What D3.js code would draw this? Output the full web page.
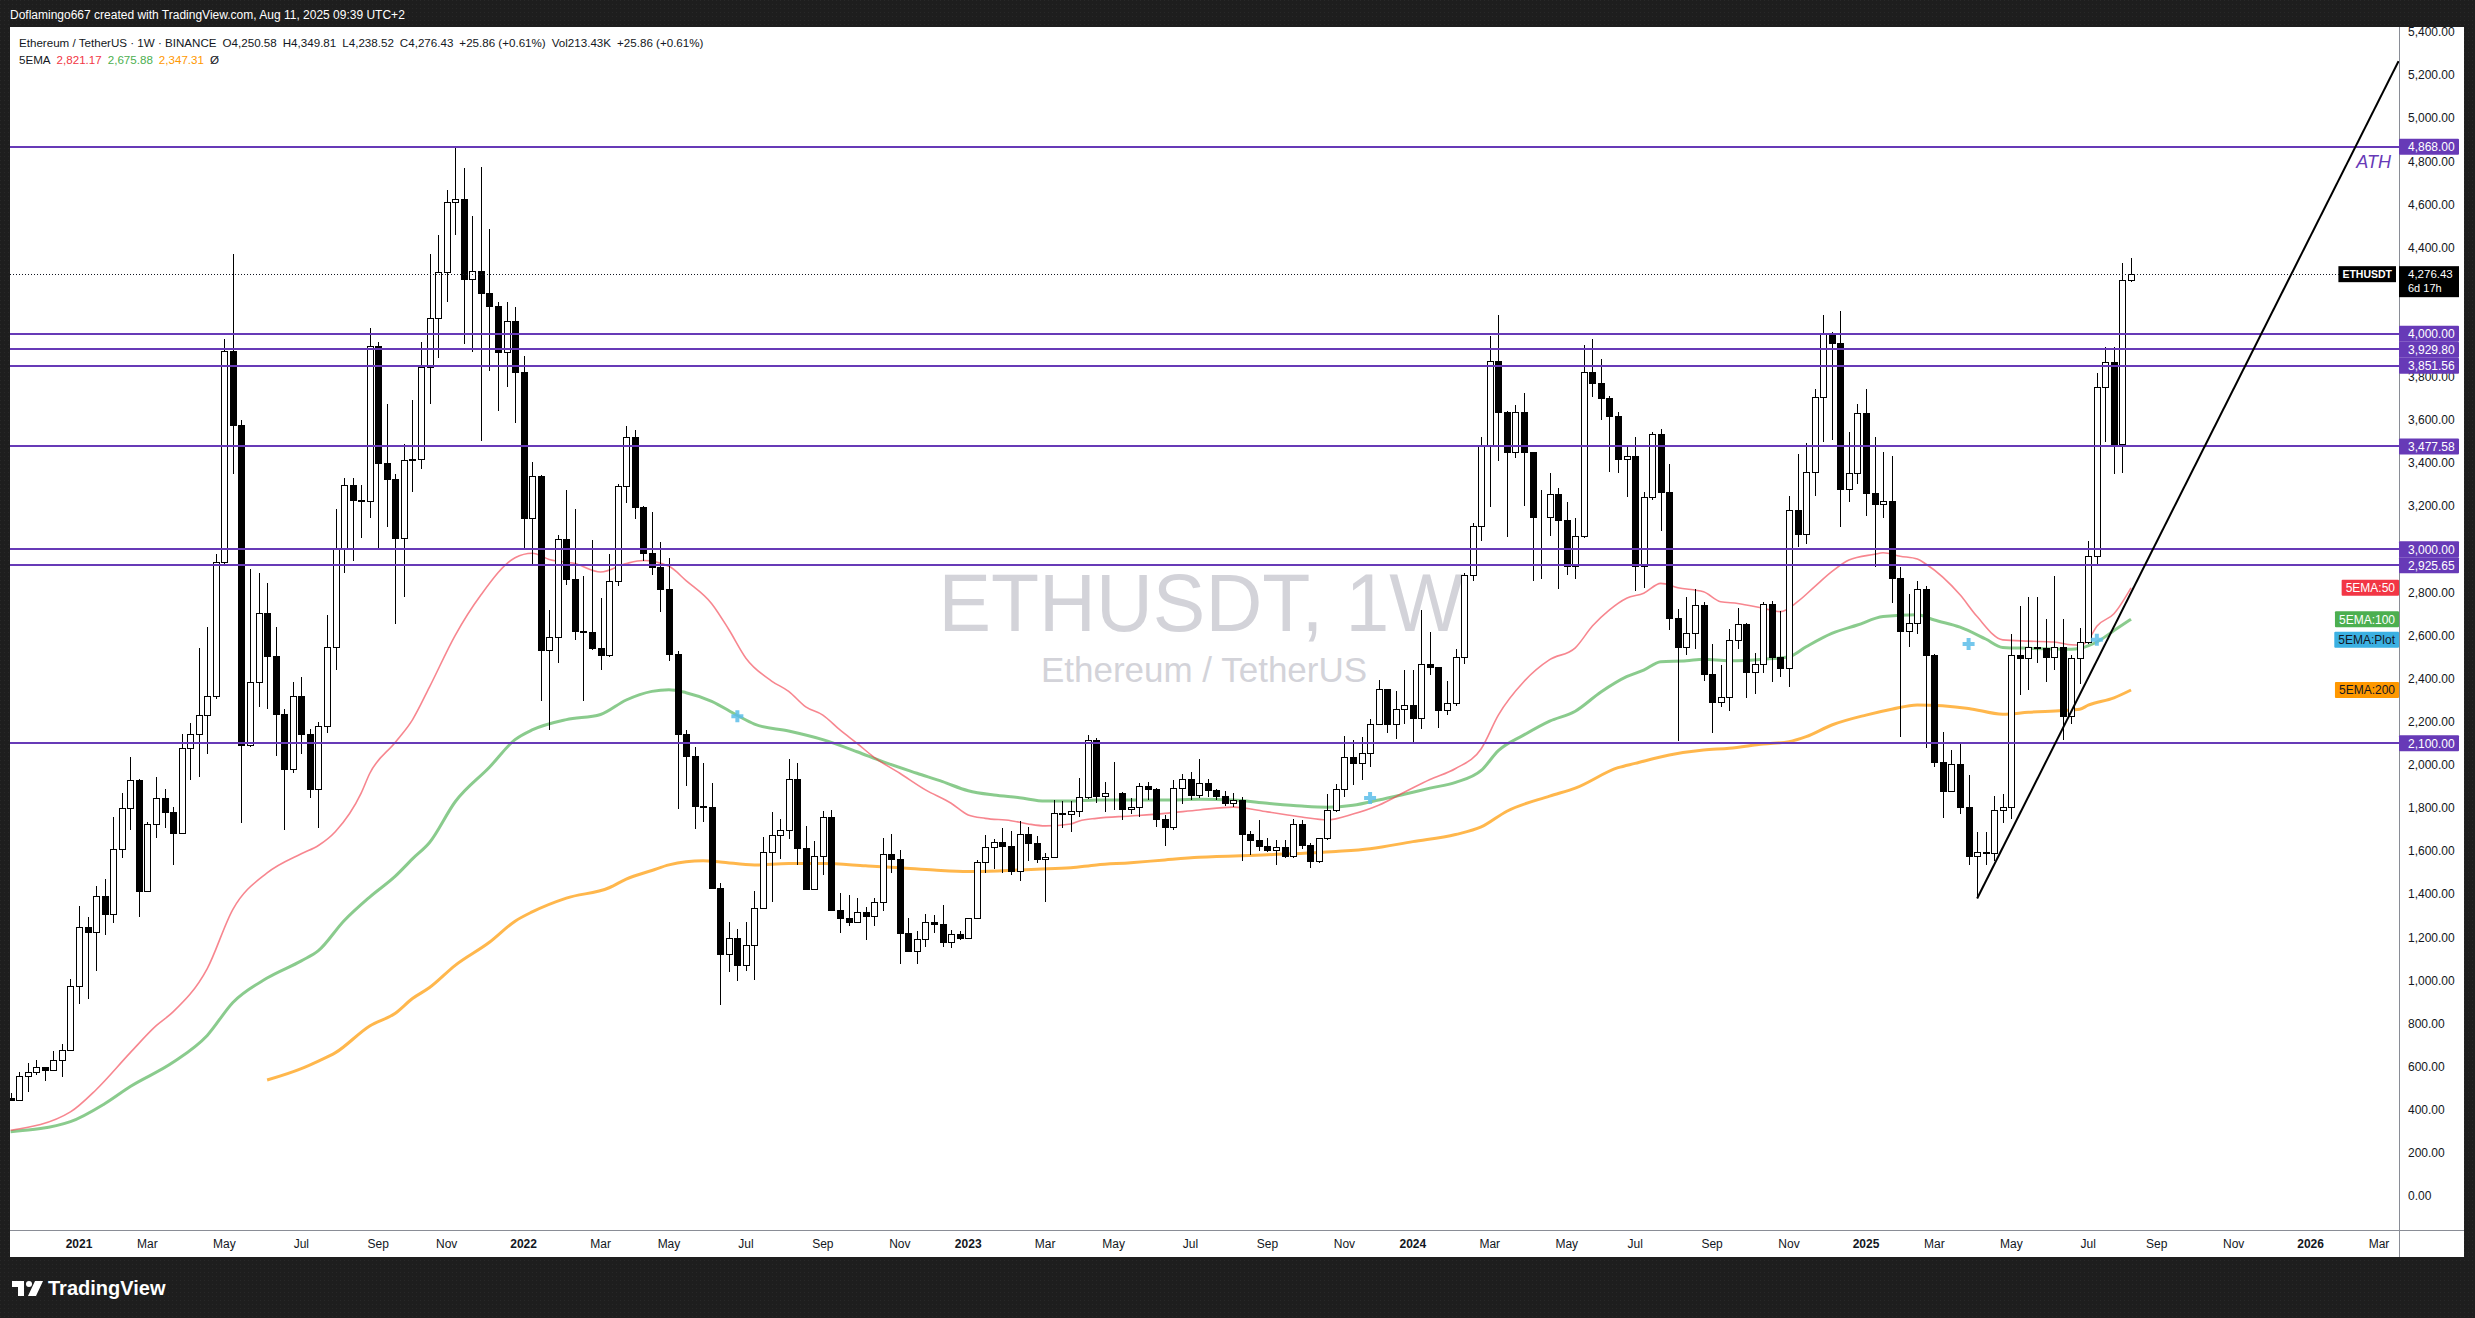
<!DOCTYPE html>
<html><head><meta charset="utf-8"><title>ETHUSDT 1W</title>
<script src="https://cdn.jsdelivr.net/npm/d3@7/dist/d3.min.js"></script>
<style>
html,body{margin:0;padding:0;background:#1e1e1e;overflow:hidden}
svg{display:block}
</style></head><body>
<svg id="c" width="2475" height="1318" xmlns="http://www.w3.org/2000/svg"></svg>
<script>
// ---------------- DATA ----------------
const header = "Doflamingo667 created with TradingView.com, Aug 11, 2025 09:39 UTC+2";
const symbolTitle = "Ethereum / TetherUS · 1W · BINANCE";
const watermark = "ETHUSDT, 1W";
const watermarkSub = "Ethereum / TetherUS";
const tickerTag = "ETHUSDT";
const countdown = "6d 17h";
const lastVolumeK = 213.43;

const firstWeek = "2020-11-09"; // weekly candles, Mondays
const opens = [455,447,557,573,597,585,632,677,
972,1250,1227,1390,1307,1608,1798,1928,1413,1727,
1845,1780,1682,2076,2144,2230,2318,2942,3919,3578,
2090,2383,2706,2505,2238,1981,2318,2141,1889,2179,
2549,3008,3300,3229,3224,3942,3401,3324,3052,3413,
3420,3845,4074,4285,4609,4625,4253,4290,4191,4127,
3917,4058,3824,3147,3342,2535,2593,3049,2862,2620,
2618,2543,2508,2855,3294,3520,3195,2982,2916,2815,
2516,2141,2042,1808,1803,1430,1124,1196,1070,1164,
1337,1595,1675,1696,1933,1616,1424,1576,1760,1327,
1291,1273,1319,1300,1362,1585,1563,1219,1138,1191,
1273,1260,1180,1214,1196,1288,1548,1621,1640,1625,
1509,1678,1636,1562,1574,1775,1770,1787,1853,2116,
1857,1868,1869,1794,1803,1904,1887,1747,1713,1894,
1933,1860,1918,1885,1855,1824,1837,1681,1653,1626,
1607,1617,1576,1727,1629,1552,1659,1789,1886,2038,
2007,2057,2189,2350,2191,2259,2277,2216,2469,2455,
2253,2286,2502,2879,3108,3482,3873,3638,3451,3638,
3451,3152,3148,3258,3134,2924,3062,3821,3772,3700,
3620,3417,3434,2924,3241,3533,3264,2683,2548,2610,
2742,2420,2293,2313,2579,2653,2432,2466,2746,2502,
2451,3182,3070,3357,3705,4002,3956,3278,3352,3631,
3263,3209,3226,2865,2622,2658,2814,2512,2014,1881,
2004,1803,1575,1594,1590,1789,1803,2508,2498,2545,
2541,2502,2545,2225,2496,2570,2967,3752,3869,3488,
4250.58];
const highs = [476,575,617,632,600,671,705,1005,
1345,1295,1440,1469,1756,1869,2037,1935,1735,1943,
1889,1804,2141,2194,2543,2638,2978,3975,4368,3600,
2910,2889,2845,2641,2259,2386,2407,2165,2200,2697,
3185,3330,3333,3300,4028,3963,3673,3348,3490,3694,
3963,4370,4458,4665,4868,4769,4546,4772,4487,4146,
4146,4125,3898,3406,3347,2719,3068,3275,3187,2876,
3041,2775,2980,3302,3574,3552,3201,3174,3036,2961,
2527,2160,2082,2010,1915,1451,1270,1238,1270,1417,
1664,1781,1749,2029,2010,1717,1647,1786,1790,1404,
1396,1381,1339,1381,1659,1678,1605,1288,1229,1307,
1304,1350,1234,1229,1291,1560,1675,1656,1709,1693,
1740,1713,1672,1590,1837,1832,1832,1938,2139,2126,
1922,2015,1876,1845,1915,1922,1891,1768,1930,1958,
1969,2026,1933,1890,1877,1868,1851,1695,1745,1662,
1650,1653,1749,1745,1638,1662,1864,1910,2134,2115,
2130,2213,2396,2350,2341,2442,2442,2717,2616,2455,
2387,2537,2891,3121,3519,3988,4089,3643,3671,3726,
3451,3273,3354,3286,3218,3145,3946,3974,3883,3711,
3635,3484,3521,3264,3543,3558,3396,2723,2777,2814,
2757,2561,2463,2630,2726,2660,2517,2757,2762,2715,
3247,3441,3495,3744,4087,4010,4106,3543,3674,3744,
3523,3450,3435,2916,2795,2853,2830,2516,2151,2069,
2102,1952,1688,1688,1854,1867,2606,2736,2779,2779,
2678,2877,2678,2512,2633,3039,3820,3937,3937,4328,
4349.81];
const lows = [440,440,484,561,532,579,552,677,
893,916,1046,1209,1268,1567,1700,1292,1410,1662,
1706,1537,1682,1928,1943,2052,2304,2925,3348,1730,
2082,2268,2259,2040,1700,1963,2052,1845,1706,2150,
2440,2889,2945,3052,3147,3000,3105,2653,2780,3265,
3371,3675,3888,4146,4458,3954,3914,3504,3829,3640,
3752,3584,2996,2926,2295,2162,2474,2836,2580,2295,
2535,2442,2500,2828,3214,3142,2948,2881,2708,2482,
1797,1904,1704,1736,1425,884,1038,998,1044,1004,
1330,1363,1563,1656,1536,1420,1418,1489,1324,1219,
1253,1265,1188,1253,1324,1500,1075,1134,1075,1154,
1219,1157,1149,1188,1194,1283,1500,1515,1497,1489,
1461,1556,1543,1365,1567,1709,1687,1760,1842,1825,
1783,1791,1744,1771,1760,1837,1713,1625,1698,1817,
1837,1848,1853,1837,1809,1804,1552,1583,1602,1598,
1534,1567,1567,1611,1521,1543,1650,1782,1850,1906,
1928,1989,2189,2149,2121,2191,2097,2167,2415,2170,
2231,2271,2469,2855,3038,3198,3411,3056,3423,3203,
2855,2864,3062,2818,2882,2864,3051,3708,3600,3360,
3356,3241,2808,2822,3229,3087,2626,2112,2510,2536,
2391,2149,2270,2251,2538,2309,2329,2425,2383,2409,
2360,3012,3025,3249,3499,3507,3102,3218,3303,3156,
2920,3144,2749,2128,2545,2605,2076,1991,1754,1872,
1770,1535,1385,1536,1555,1731,1750,2322,2346,2473,
2385,2440,2115,2190,2375,2560,2932,3498,3351,3355,
4238.52];
const closes = [447,557,573,597,585,632,677,972,
1250,1227,1390,1307,1608,1798,1928,1413,1727,1845,
1780,1682,2076,2144,2230,2318,2942,3919,3578,2090,
2383,2706,2505,2238,1981,2318,2141,1889,2179,2549,
3008,3300,3229,3224,3942,3401,3324,3052,3413,3420,
3845,4074,4285,4609,4625,4253,4290,4191,4127,3917,
4058,3824,3147,3342,2535,2593,3049,2862,2620,2618,
2543,2508,2855,3294,3520,3195,2982,2916,2815,2516,
2141,2042,1808,1803,1430,1124,1196,1070,1164,1337,
1595,1675,1696,1933,1616,1424,1576,1760,1327,1291,
1273,1319,1300,1362,1585,1563,1219,1138,1191,1273,
1260,1180,1214,1196,1288,1548,1621,1640,1625,1509,
1678,1636,1562,1574,1775,1770,1787,1853,2116,1857,
1868,1869,1794,1803,1904,1887,1747,1713,1894,1933,
1860,1918,1885,1855,1824,1837,1681,1653,1626,1607,
1617,1576,1727,1629,1552,1659,1789,1886,2038,2007,
2057,2189,2350,2191,2259,2277,2216,2469,2455,2253,
2286,2502,2879,3108,3482,3873,3638,3451,3638,3451,
3152,3148,3258,3134,2924,3062,3821,3772,3700,3620,
3417,3434,2924,3241,3533,3264,2683,2548,2610,2742,
2420,2293,2313,2579,2653,2432,2466,2746,2502,2451,
3182,3070,3357,3705,4002,3956,3278,3352,3631,3263,
3209,3226,2865,2622,2658,2814,2512,2014,1881,2004,
1803,1575,1594,1590,1789,1803,2508,2498,2545,2541,
2502,2545,2225,2496,2570,2967,3752,3869,3488,4250.57,
4276.43];

// EMA readings: [week offset from emaOrigin, value]
const emaOrigin = "2021-01-04";
const ema50 = [[-8,305],[-1,390],[2,493],[6,665],[9,789],[11,854],[15,1055],[18,1330],[22,1499],[26,1588],[28,1626],[30,1691],[33,1869],[34,1960],[37,2105],[39,2209],[41,2362],[44,2601],[47,2788],[51,2961],[53,2982],[55,2953],[58,2934],[61,2895],[64,2934],[66,2948],[69,2921],[71,2855],[74,2748],[76,2628],[78,2495],[81,2389],[83,2341],[85,2269],[87,2231],[89,2162],[91,2100],[93,2035],[96,1961],[99,1884],[102,1822],[104,1768],[106,1752],[109,1741],[111,1726],[113,1717],[116,1726],[117,1740],[119,1752],[123,1763],[127,1775],[131,1791],[135,1804],[139,1782],[143,1758],[146,1745],[149,1772],[152,1813],[155,1873],[158,1932],[161,1983],[164,2075],[166,2231],[169,2387],[172,2488],[175,2543],[177,2644],[179,2719],[181,2773],[183,2796],[185,2842],[187,2822],[190,2803],[192,2757],[194,2749],[197,2726],[199,2711],[201,2757],[203,2827],[205,2896],[207,2950],[210,2977],[211,2984],[213,2968],[215,2955],[216,2932],[220,2789],[222,2688],[225,2580],[228,2574],[231,2570],[233,2557],[234,2555],[235,2580],[236,2643],[238,2701],[240,2821.17]];
const ema100 = [[-8,298],[-1,345],[3,428],[6,508],[11,620],[15,745],[18,898],[22,1011],[26,1091],[28,1138],[31,1277],[34,1387],[37,1484],[39,1564],[41,1640],[44,1829],[48,1989],[51,2117],[53,2162],[57,2210],[61,2234],[64,2301],[67,2341],[69,2349],[71,2335],[74,2295],[77,2229],[79,2189],[83,2157],[87,2117],[91,2061],[94,2015],[98,1961],[101,1922],[104,1880],[107,1860],[110,1848],[113,1832],[116,1832],[119,1837],[127,1837],[131,1840],[135,1837],[139,1822],[143,1809],[146,1804],[149,1813],[152,1837],[155,1864],[158,1892],[161,1919],[164,1974],[166,2066],[169,2139],[172,2203],[175,2249],[178,2338],[181,2409],[183,2440],[185,2479],[188,2483],[190,2490],[193,2483],[197,2490],[200,2502],[202,2548],[205,2610],[208,2649],[211,2688],[215,2697],[217,2672],[220,2639],[223,2584],[225,2545],[228,2541],[233,2537],[234,2541],[236,2570],[238,2623],[240,2675.88]];
const ema200 = [[22,538],[26,591],[28,626],[30,665],[34,789],[37,848],[39,916],[41,967],[44,1070],[48,1177],[51,1275],[53,1318],[57,1382],[62,1430],[64,1470],[67,1510],[69,1536],[73,1555],[75,1550],[79,1536],[83,1542],[87,1542],[92,1532],[96,1523],[100,1512],[104,1505],[108,1509],[112,1516],[116,1523],[119,1536],[123,1546],[127,1559],[131,1571],[139,1583],[147,1598],[151,1611],[156,1644],[161,1677],[164,1712],[167,1785],[172,1855],[175,1892],[180,1987],[182,2007],[186,2046],[190,2069],[193,2077],[197,2097],[200,2108],[202,2131],[205,2185],[209,2231],[212,2258],[215,2278],[221,2262],[225,2235],[228,2244],[232,2252],[234,2258],[235,2277],[238,2311],[240,2347.31]];
const emaPlot = [[77,2226],[151,1846],[221,2561],[236,2580]];

const levels = [4868, 4000, 3929.80, 3851.56, 3477.58, 3000, 2925.65, 2100];
const athLabel = "ATH";
const trendPoints = [["2025-04-07", 1380], ["2026-03-18", 5265]];

const priceTicks = [0,200,400,600,800,1000,1200,1400,1600,1800,2000,2200,2400,2600,2800,3000,3200,3400,3600,3800,4000,4200,4400,4600,4800,5000,5200,5400];
const tickYears = [2021, 2022, 2023, 2024, 2025, 2026];
const tickMonths = [["Mar",2],["May",4],["Jul",6],["Sep",8],["Nov",10]];

const emaTags = [["5EMA:50", "#f23645", "#ffffff"], ["5EMA:100", "#4caf50", "#ffffff"], ["5EMA:Plot", "#3bb0e2", "#131722"], ["5EMA:200", "#ff9800", "#131722"]];

// ---------------- LAYOUT ----------------
const F = '"Liberation Sans", Arial, Helvetica, sans-serif';
const P = {x0: 10, y0: 27, x1: 2399, y1: 1230, r: 2464, b: 1257};
const purple = "#673ab7";
const ink = "#131722";

const x = d3.scaleUtc()
  .domain([new Date("2021-01-04T00:00:00Z"), new Date("2026-01-05T00:00:00Z")])
  .range([79, 2310.6]);
const y = d3.scaleLinear().domain([0, 5400]).range([1196, 31.98]);
const fmt = d3.format(",.2f");

const svg = d3.select("#c").attr("font-family", F);
const defs = svg.append("defs");
const pat = defs.append("pattern").attr("id","dots").attr("width",4).attr("height",4).attr("patternUnits","userSpaceOnUse");
pat.append("rect").attr("width",1).attr("height",1).attr("fill","#282828");
defs.append("clipPath").attr("id","pc").append("rect")
  .attr("x",P.x0).attr("y",P.y0).attr("width",P.x1-P.x0).attr("height",P.y1-P.y0);

svg.append("rect").attr("width",2475).attr("height",1318).attr("fill","#1e1e1e");
svg.append("rect").attr("width",2475).attr("height",1318).attr("fill","url(#dots)");

// header
svg.append("text").attr("x",10).attr("y",19).attr("fill","#ffffff").attr("font-size",12).text(header);

// white panel
svg.append("rect").attr("x",P.x0).attr("y",P.y0).attr("width",P.r-P.x0).attr("height",P.b-P.y0).attr("fill","#ffffff");

// watermark
svg.append("text").attr("x",1201).attr("y",631).attr("text-anchor","middle")
  .attr("font-size",81).attr("fill","#d3d3d9").attr("textLength",525).attr("lengthAdjust","spacingAndGlyphs").text(watermark);
svg.append("text").attr("x",1204).attr("y",682).attr("text-anchor","middle")
  .attr("font-size",35).attr("fill","#d3d3d9").text(watermarkSub);

const g = svg.append("g").attr("clip-path","url(#pc)");

const lastClose = closes[closes.length-1];
const yLast = Math.round(y(lastClose)) + 0.5;

// EMA lines
const origin = new Date(emaOrigin + "T00:00:00Z");
const toPts = arr => arr.map(([w,v]) => ({d: d3.utcMonday.offset(origin, w), v}));
const line = d3.line().x(p => x(p.d)).y(p => y(p.v)).curve(d3.curveMonotoneX);
g.append("path").attr("d", line(toPts(ema200))).attr("fill","none").attr("stroke","#ff9800").attr("stroke-opacity",0.7).attr("stroke-width",3);
g.append("path").attr("d", line(toPts(ema100))).attr("fill","none").attr("stroke","#4caf50").attr("stroke-opacity",0.65).attr("stroke-width",3);
g.append("path").attr("d", line(toPts(ema50))).attr("fill","none").attr("stroke","#f23645").attr("stroke-opacity",0.6).attr("stroke-width",1.6);

// candles
const start = new Date(firstWeek + "T00:00:00Z");
const candles = opens.map((o,k) => ({d: d3.utcMonday.offset(start, k), o, h: highs[k], l: lows[k], c: closes[k]}));
const cg = g.append("g").attr("shape-rendering","crispEdges");
cg.selectAll("line.w").data(candles).join("line").attr("class","w")
  .attr("x1", d => Math.round(x(d.d)) + 0.5).attr("x2", d => Math.round(x(d.d)) + 0.5)
  .attr("y1", d => y(d.h)).attr("y2", d => y(d.l)).attr("stroke","#000").attr("stroke-width",1);
cg.selectAll("rect.b").data(candles).join("rect").attr("class","b")
  .attr("x", d => Math.round(x(d.d)) - 2.5).attr("width", 6)
  .attr("y", d => Math.round(y(Math.max(d.o,d.c))) + 0.5)
  .attr("height", d => Math.max(0, Math.round(y(Math.min(d.o,d.c))) - Math.round(y(Math.max(d.o,d.c)))))
  .attr("fill", d => d.c >= d.o ? "#ffffff" : "#000000").attr("stroke","#000").attr("stroke-width",1);

// horizontal levels
g.selectAll("line.lv").data(levels).join("line").attr("class","lv")
  .attr("x1",P.x0).attr("x2",P.x1).attr("y1", v => Math.round(y(v))).attr("y2", v => Math.round(y(v)))
  .attr("stroke",purple).attr("stroke-width",2);

// dotted price line (stops at ticker tag)
g.append("line").attr("x1",P.x0).attr("x2",2340).attr("y1",yLast).attr("y2",yLast)
  .attr("stroke","#131722").attr("stroke-width",1).attr("stroke-dasharray","1,2");

// trendline
const tp = trendPoints.map(([d,v]) => [x(new Date(d+"T00:00:00Z")), y(v)]);
g.append("line").attr("x1",tp[0][0]).attr("y1",tp[0][1]).attr("x2",tp[1][0]).attr("y2",tp[1][1])
  .attr("stroke","#000").attr("stroke-width",2);

// 5EMA:Plot crosses
const crossPts = toPts(emaPlot);
const cross = g.append("g");
crossPts.forEach(p => {
  const cx = x(p.d), cy = y(p.v);
  cross.append("path").attr("d", `M${cx-6},${cy}H${cx+6}M${cx},${cy-6}V${cy+6}`)
    .attr("stroke","#5cbde9").attr("stroke-width",4).attr("stroke-opacity",0.85);
});

// ATH label
g.append("text").attr("x",2391).attr("y",y(levels[0]) + 21).attr("text-anchor","end")
  .attr("font-size",18).attr("font-style","italic").attr("fill",purple).text(athLabel);

// ---------------- AXES ----------------
svg.append("line").attr("x1",P.x1+0.5).attr("x2",P.x1+0.5).attr("y1",P.y0).attr("y2",P.b).attr("stroke","#8a8d96");
svg.append("line").attr("x1",P.x0).attr("x2",P.r).attr("y1",P.y1+0.5).attr("y2",P.y1+0.5).attr("stroke","#8a8d96");

// price axis labels (labels hidden underneath tags are skipped, as on the axis)
const lastBox = [y(lastClose) - 8, y(lastClose) + 23];
const hidden = v => {
  const yy = y(v);
  if (yy + 6 > lastBox[0] && yy - 6 < lastBox[1]) return true;
  return levels.some(l => Math.abs(y(l) - yy) < 9);
};
svg.append("g").selectAll("text").data(priceTicks.filter(v => !hidden(v))).join("text")
  .attr("x",2408).attr("y", v => y(v)).attr("dy","0.35em").attr("font-size",12).attr("fill",ink)
  .text(v => fmt(v));

const tLabels = [];
tickYears.forEach(Y => {
  tLabels.push({t: String(Y), d: d3.utcMonday.ceil(new Date(Date.UTC(Y,0,1))), bold: true});
  tickMonths.forEach(([n,m]) => tLabels.push({t: n, d: d3.utcMonday.ceil(new Date(Date.UTC(Y,m,1))), bold: false}));
});
svg.append("g").selectAll("text").data(tLabels.filter(l => x(l.d) < P.x1 - 10)).join("text")
  .attr("x", l => x(l.d)).attr("y",1244).attr("dy","0.35em").attr("text-anchor","middle")
  .attr("font-size",12).attr("font-weight", l => l.bold ? "bold" : "normal").attr("fill",ink).text(l => l.t);

// ---------------- LEGEND (flowed left to right) ----------------
const n = closes.length - 1;
const chg = closes[n] - closes[n-1];
const pct = chg / closes[n-1] * 100;
const sign = v => (v >= 0 ? "+" : "");
const chgText = sign(chg) + fmt(chg) + " (" + sign(pct) + d3.format(".2f")(pct) + "%)";
const leg1 = [
  [symbolTitle, ink], ["O" + fmt(opens[n]), ink], ["H" + fmt(highs[n]), ink], ["L" + fmt(lows[n]), ink],
  ["C" + fmt(closes[n]), ink], [chgText, ink], ["Vol" + d3.format(".2f")(lastVolumeK) + "K", ink], [chgText, ink]
];
const last = a => a[a.length-1][1];
const leg2 = [["5EMA", ink], [fmt(last(ema50)), "#f23645"], [fmt(last(ema100)), "#4caf50"], [fmt(last(ema200)), "#ff9800"], ["Ø", ink]];
function flow(items, yy, gap, fs) {
  let cx = 19;
  const gg = svg.append("g");
  items.forEach(([t, col]) => {
    const el = gg.append("text").attr("x", cx).attr("y", yy).attr("dy","0.35em").attr("font-size", fs).attr("fill", col).text(t);
    cx += el.node().getComputedTextLength() + gap;
  });
}
flow(leg1, 43, 6, 11.6);
flow(leg2, 60, 6, 11.6);

// ---------------- PRICE TAGS ----------------
const tagH = 16;
let prevBottom = -Infinity;
levels.slice().sort((a,b) => b-a).forEach(v => {
  let cy = y(v);
  if (cy - tagH/2 < prevBottom) cy = prevBottom + tagH/2;
  prevBottom = cy + tagH/2;
  svg.append("rect").attr("x",P.x1).attr("y",cy - tagH/2).attr("width",60).attr("height",tagH).attr("fill",purple).attr("rx",1);
  svg.append("text").attr("x",2408).attr("y",cy).attr("dy","0.36em").attr("font-size",12).attr("fill","#fff").text(fmt(v));
});

// last price box
svg.append("rect").attr("x",P.x1).attr("y",y(lastClose) - 8).attr("width",60).attr("height",31).attr("fill","#000");
svg.append("text").attr("x",2408).attr("y",y(lastClose) - 0.5).attr("dy","0.36em").attr("font-size",11.5).attr("fill","#fff").text(fmt(lastClose));
svg.append("text").attr("x",2408).attr("y",y(lastClose) + 14).attr("dy","0.36em").attr("font-size",11).attr("fill","#fff").text(countdown);
// ticker tag
const tt = svg.append("text").attr("y",y(lastClose)).attr("dy","0.36em").attr("text-anchor","middle")
  .attr("font-size",10.5).attr("font-weight","bold").attr("fill","#fff").text(tickerTag);
const tw = tt.node().getComputedTextLength();
svg.insert("rect", () => tt.node()).attr("x",2396 - tw - 8).attr("y",y(lastClose) - 8).attr("width",tw + 8).attr("height",16).attr("fill","#000");
tt.attr("x", 2396 - (tw + 8)/2);

// EMA tags placed at latest values
const tagVals = [last(ema50), last(ema100), last(emaPlot), last(ema200)];
emaTags.forEach(([label, bg, fg], i) => {
  const cy = y(tagVals[i]);
  const t = svg.append("text").attr("y",cy).attr("dy","0.36em").attr("font-size",12).attr("fill",fg).attr("text-anchor","end").attr("x",P.x1-4).text(label);
  const w = t.node().getComputedTextLength();
  svg.insert("rect", () => t.node()).attr("x",P.x1 - w - 8).attr("y",cy - 8).attr("width",w + 8).attr("height",16).attr("fill",bg).attr("rx",1);
});

// ---------------- FOOTER LOGO ----------------
const logo = svg.append("g").attr("fill","#ffffff");
logo.append("path").attr("d","M12,1281H24V1296H18V1287H12Z");
logo.append("circle").attr("cx",29).attr("cy",1284).attr("r",3);
logo.append("path").attr("d","M35,1281H43L36,1296H28Z");
svg.append("text").attr("x",48).attr("y",1295).attr("font-size",20).attr("font-weight","bold").attr("fill","#ffffff").text("TradingView");
</script>
</body></html>
